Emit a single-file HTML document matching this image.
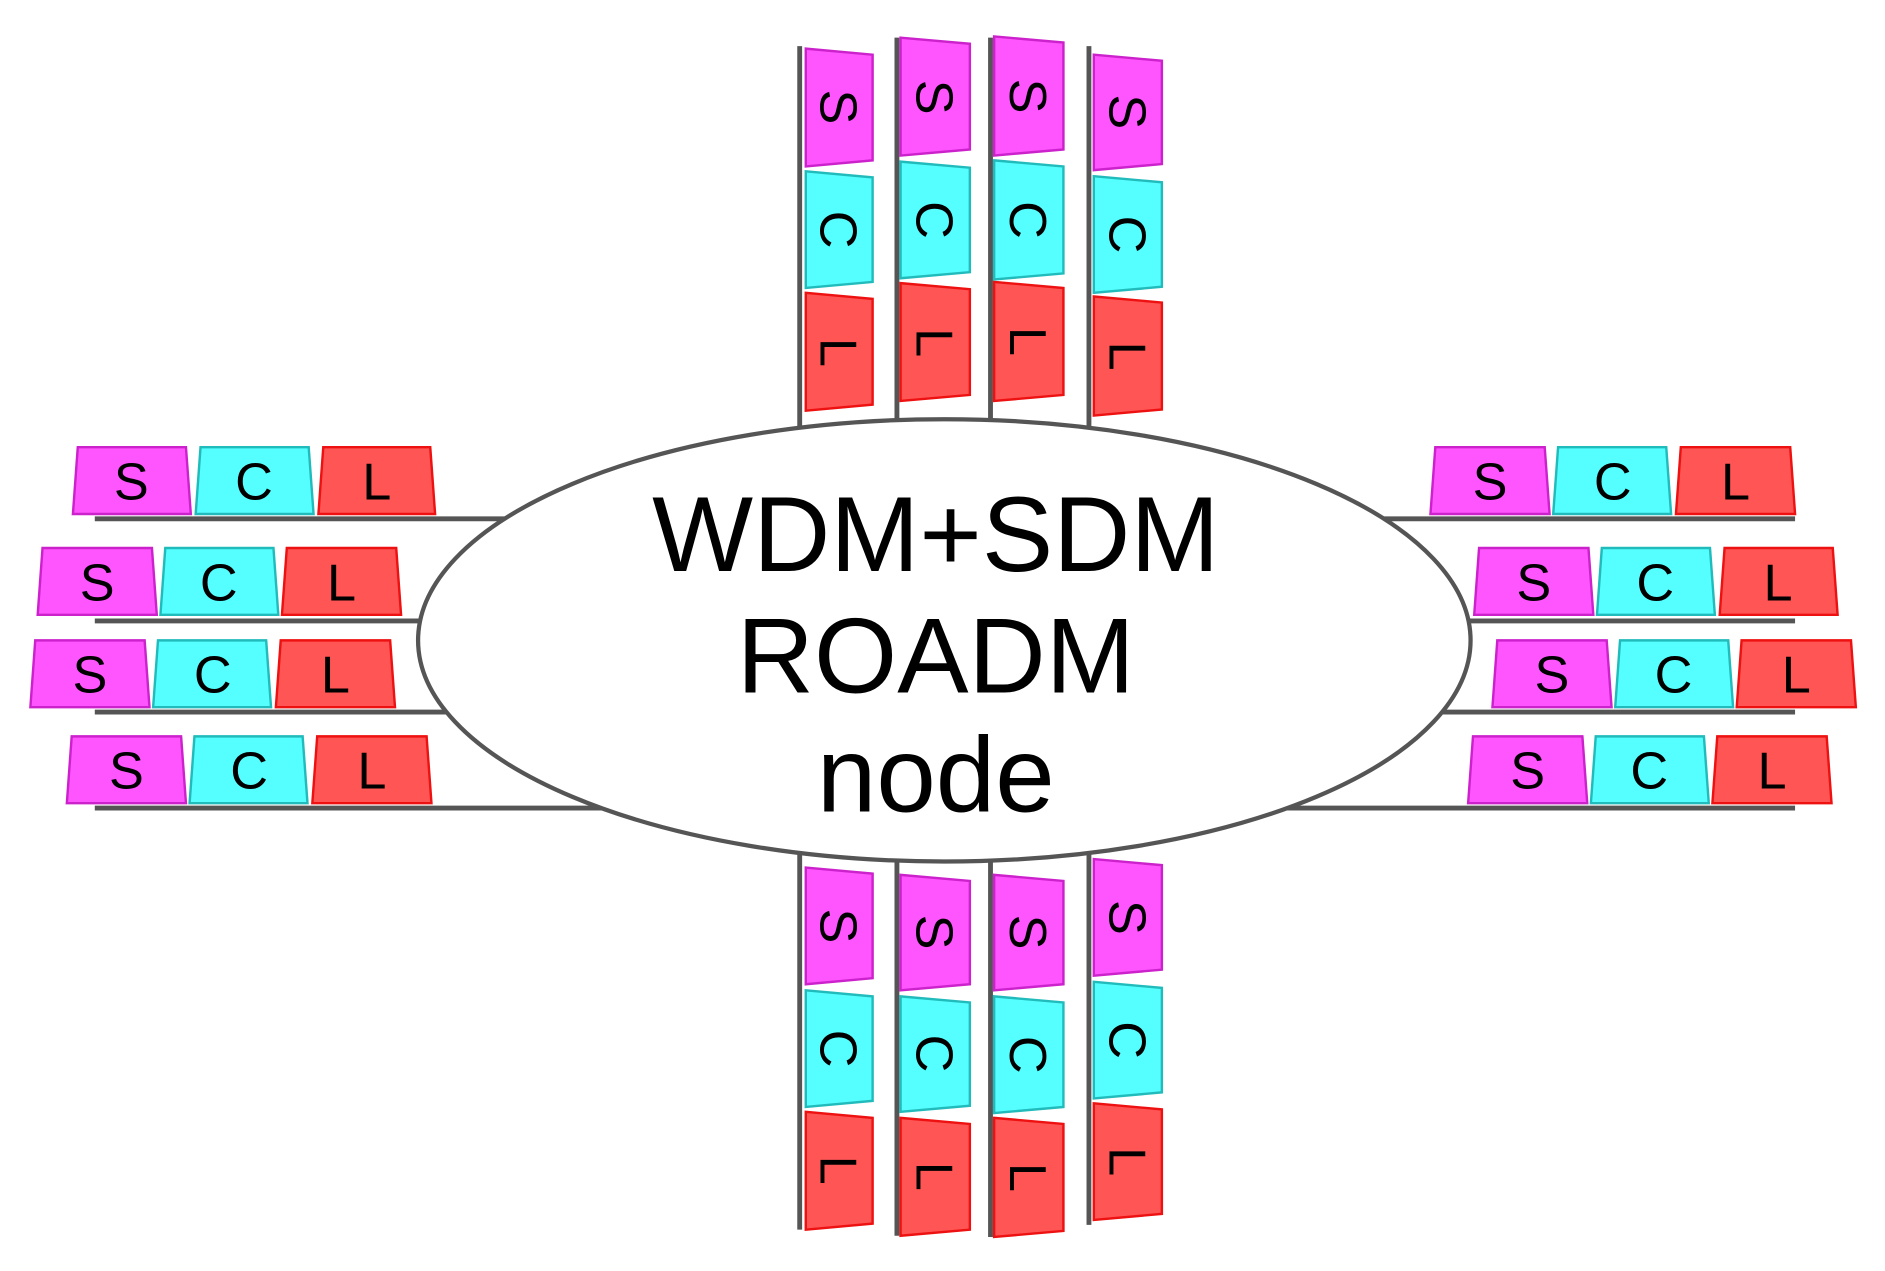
<!DOCTYPE html>
<html><head><meta charset="utf-8"><style>
html,body{margin:0;padding:0;background:#fff;width:1885px;height:1271px;overflow:hidden}
svg{display:block}
text{font-family:"Liberation Sans",Arial,sans-serif;fill:#000}
.s{fill:#ff55ff;stroke:#cc22cc;stroke-width:2}
.c{fill:#55ffff;stroke:#22bbbb;stroke-width:2}
.l{fill:#ff5555;stroke:#ee1111;stroke-width:2}
.b{font-size:43px;text-anchor:middle}
.ln{stroke:#555;stroke-width:4}
</style></head><body>
<svg width="1885" height="1271" viewBox="0 0 1551 1046" preserveAspectRatio="none">
<g class="ln">
<line x1="78" y1="427" x2="600" y2="427"/><line x1="78" y1="511" x2="600" y2="511"/>
<line x1="78" y1="586" x2="600" y2="586"/><line x1="78" y1="665" x2="600" y2="665"/>
<line x1="950" y1="427" x2="1477" y2="427"/><line x1="950" y1="511" x2="1477" y2="511"/>
<line x1="950" y1="586" x2="1477" y2="586"/><line x1="950" y1="665" x2="1477" y2="665"/>
<line x1="658" y1="38" x2="658" y2="500"/><line x1="738" y1="31" x2="738" y2="500"/>
<line x1="815" y1="31" x2="815" y2="500"/><line x1="896" y1="38" x2="896" y2="500"/>
<line x1="658" y1="550" x2="658" y2="1012"/><line x1="738" y1="550" x2="738" y2="1017"/>
<line x1="815" y1="550" x2="815" y2="1018"/><line x1="896" y1="550" x2="896" y2="1008"/>
</g>
<ellipse cx="777" cy="527" rx="433" ry="182" fill="#fff" stroke="#555" stroke-width="3.5"/>
<text x="770" y="470" font-size="88" text-anchor="middle">WDM+SDM</text>
<text x="770" y="570" font-size="88" text-anchor="middle">ROADM</text>
<text x="770" y="668" font-size="88" text-anchor="middle">node</text>

<polygon class="s" points="60,423 64,368 153,368 157,423"/><text class="b" x="108" y="411">S</text>
<polygon class="c" points="161,423 165,368 254,368 258,423"/><text class="b" x="209" y="411">C</text>
<polygon class="l" points="262,423 266,368 354,368 358,423"/><text class="b" x="310" y="411">L</text>

<polygon class="s" points="31,506 35,451 125,451 129,506"/><text class="b" x="80" y="494">S</text>
<polygon class="c" points="132,506 136,451 225,451 229,506"/><text class="b" x="180" y="494">C</text>
<polygon class="l" points="232,506 236,451 326,451 330,506"/><text class="b" x="281" y="494">L</text>

<polygon class="s" points="25,582 29,527 119,527 123,582"/><text class="b" x="74" y="570">S</text>
<polygon class="c" points="126,582 130,527 219,527 223,582"/><text class="b" x="175" y="570">C</text>
<polygon class="l" points="227,582 231,527 321,527 325,582"/><text class="b" x="276" y="570">L</text>

<polygon class="s" points="55,661 59,606 149,606 153,661"/><text class="b" x="104" y="649">S</text>
<polygon class="c" points="156,661 160,606 249,606 253,661"/><text class="b" x="205" y="649">C</text>
<polygon class="l" points="257,661 261,606 351,606 355,661"/><text class="b" x="306" y="649">L</text>

<polygon class="s" points="1177,423 1181,368 1271,368 1275,423"/><text class="b" x="1226" y="411">S</text>
<polygon class="c" points="1278,423 1282,368 1371,368 1375,423"/><text class="b" x="1327" y="411">C</text>
<polygon class="l" points="1379,423 1383,368 1473,368 1477,423"/><text class="b" x="1428" y="411">L</text>

<polygon class="s" points="1213,506 1217,451 1307,451 1311,506"/><text class="b" x="1262" y="494">S</text>
<polygon class="c" points="1314,506 1318,451 1407,451 1411,506"/><text class="b" x="1362" y="494">C</text>
<polygon class="l" points="1415,506 1419,451 1508,451 1512,506"/><text class="b" x="1463" y="494">L</text>

<polygon class="s" points="1228,582 1232,527 1322,527 1326,582"/><text class="b" x="1277" y="570">S</text>
<polygon class="c" points="1329,582 1333,527 1422,527 1426,582"/><text class="b" x="1377" y="570">C</text>
<polygon class="l" points="1429,582 1433,527 1523,527 1527,582"/><text class="b" x="1478" y="570">L</text>

<polygon class="s" points="1208,661 1212,606 1302,606 1306,661"/><text class="b" x="1257" y="649">S</text>
<polygon class="c" points="1309,661 1313,606 1402,606 1406,661"/><text class="b" x="1357" y="649">C</text>
<polygon class="l" points="1409,661 1413,606 1503,606 1507,661"/><text class="b" x="1458" y="649">L</text>

<polygon class="s" points="663,40 718,45 718,132 663,137"/><text class="b" transform="translate(690,88) rotate(90)" dy="15">S</text>
<polygon class="c" points="663,141 718,146 718,232 663,237"/><text class="b" transform="translate(690,189) rotate(90)" dy="15">C</text>
<polygon class="l" points="663,241 718,246 718,333 663,338"/><text class="b" transform="translate(690,290) rotate(90)" dy="15">L</text>

<polygon class="s" points="741,31 798,36 798,123 741,128"/><text class="b" transform="translate(769,80) rotate(90)" dy="15">S</text>
<polygon class="c" points="741,133 798,138 798,224 741,229"/><text class="b" transform="translate(769,181) rotate(90)" dy="15">C</text>
<polygon class="l" points="741,233 798,238 798,325 741,330"/><text class="b" transform="translate(769,282) rotate(90)" dy="15">L</text>

<polygon class="s" points="818,30 875,35 875,123 818,128"/><text class="b" transform="translate(846,79) rotate(90)" dy="15">S</text>
<polygon class="c" points="818,132 875,137 875,225 818,230"/><text class="b" transform="translate(846,181) rotate(90)" dy="15">C</text>
<polygon class="l" points="818,232 875,237 875,325 818,330"/><text class="b" transform="translate(846,281) rotate(90)" dy="15">L</text>

<polygon class="s" points="900,45 956,50 956,135 900,140"/><text class="b" transform="translate(928,92) rotate(90)" dy="15">S</text>
<polygon class="c" points="900,145 956,150 956,236 900,241"/><text class="b" transform="translate(928,193) rotate(90)" dy="15">C</text>
<polygon class="l" points="900,244 956,249 956,337 900,342"/><text class="b" transform="translate(928,293) rotate(90)" dy="15">L</text>

<polygon class="s" points="663,714 718,719 718,805 663,810"/><text class="b" transform="translate(690,762) rotate(90)" dy="15">S</text>
<polygon class="c" points="663,815 718,820 718,906 663,911"/><text class="b" transform="translate(690,863) rotate(90)" dy="15">C</text>
<polygon class="l" points="663,915 718,920 718,1007 663,1012"/><text class="b" transform="translate(690,963) rotate(90)" dy="15">L</text>

<polygon class="s" points="741,720 798,725 798,810 741,815"/><text class="b" transform="translate(769,767) rotate(90)" dy="15">S</text>
<polygon class="c" points="741,820 798,825 798,910 741,915"/><text class="b" transform="translate(769,867) rotate(90)" dy="15">C</text>
<polygon class="l" points="741,920 798,925 798,1012 741,1017"/><text class="b" transform="translate(769,968) rotate(90)" dy="15">L</text>

<polygon class="s" points="818,720 875,725 875,810 818,815"/><text class="b" transform="translate(846,767) rotate(90)" dy="15">S</text>
<polygon class="c" points="818,820 875,825 875,911 818,916"/><text class="b" transform="translate(846,868) rotate(90)" dy="15">C</text>
<polygon class="l" points="818,920 875,925 875,1013 818,1018"/><text class="b" transform="translate(846,969) rotate(90)" dy="15">L</text>

<polygon class="s" points="900,707 956,712 956,798 900,803"/><text class="b" transform="translate(928,755) rotate(90)" dy="15">S</text>
<polygon class="c" points="900,808 956,813 956,899 900,904"/><text class="b" transform="translate(928,856) rotate(90)" dy="15">C</text>
<polygon class="l" points="900,908 956,913 956,999 900,1004"/><text class="b" transform="translate(928,956) rotate(90)" dy="15">L</text>
</svg>
</body></html>
